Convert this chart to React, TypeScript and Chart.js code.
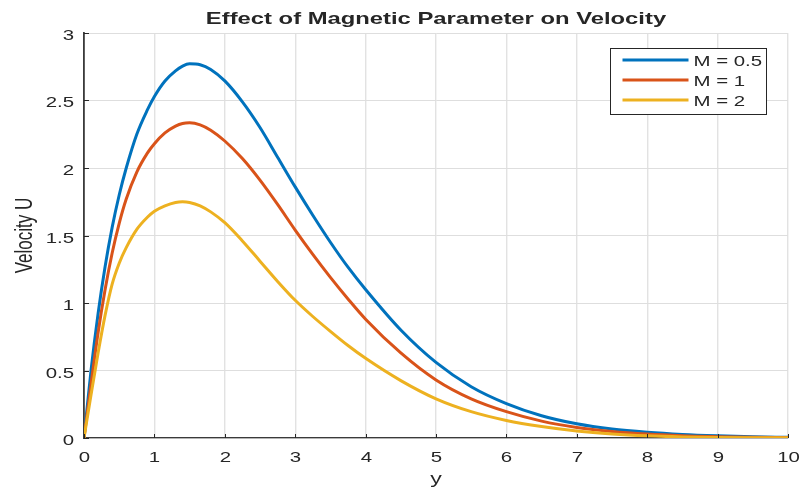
import { useEffect, useRef } from 'react';
import { Chart, registerables } from 'chart.js';

Chart.register(...registerables);

// Distance across the channel (y) and the velocity profiles for each magnetic parameter M
const yPositions = [
  0, 0.1, 0.2, 0.3, 0.4, 0.5, 0.6, 0.75, 0.9, 1.0, 1.15, 1.3, 1.4, 1.5, 1.65, 1.8, 2.0, 2.25, 2.5,
  2.75, 3, 3.25, 3.5, 3.75, 4, 4.5, 5, 5.5, 6, 6.5, 7, 7.5, 8, 8.5, 9, 9.5, 10,
];

const velocityM05 = [
  0, 0.5, 0.92, 1.27, 1.56, 1.8, 2.0, 2.25, 2.43, 2.53, 2.645, 2.72, 2.755, 2.772, 2.765, 2.73, 2.645,
  2.49, 2.3, 2.08, 1.86, 1.65, 1.45, 1.265, 1.1, 0.8, 0.56, 0.38, 0.255, 0.165, 0.105, 0.066, 0.042,
  0.026, 0.016, 0.009, 0.005,
];

const velocityM1 = [
  0, 0.4, 0.78, 1.1, 1.37, 1.59, 1.77, 1.97, 2.11, 2.18, 2.26, 2.31, 2.33, 2.335, 2.32, 2.28, 2.2,
  2.07, 1.91, 1.73, 1.54, 1.36, 1.19, 1.03, 0.88, 0.63, 0.43, 0.29, 0.195, 0.125, 0.078, 0.048, 0.029,
  0.017, 0.01, 0.005, 0.003,
];

const velocityM2 = [
  0, 0.32, 0.63, 0.91, 1.14, 1.295, 1.41, 1.545, 1.635, 1.68, 1.72, 1.745, 1.75, 1.745, 1.72, 1.675,
  1.595, 1.46, 1.31, 1.16, 1.02, 0.9, 0.79, 0.685, 0.59, 0.425, 0.29, 0.195, 0.13, 0.085, 0.052, 0.03,
  0.016, 0.008, 0.004, 0.002, 0.001,
];

const seriesLabels = ['M = 0.5', 'M = 1', 'M = 2'];
const seriesValues = [velocityM05, velocityM1, velocityM2];
const seriesColors = ['#0072BD', '#D95319', '#EDB120'];

const chartTitle = 'Effect of Magnetic Parameter on Velocity';
const xAxisTitle = 'y';
const yAxisTitle = 'Velocity U';

const X_MIN = 0;
const X_MAX = 10;
const X_STEP = 1;
const Y_MIN = 0;
const Y_MAX = 3;
const Y_STEP = 0.5;

const FONT = '"Liberation Sans", Arial, Helvetica, sans-serif';
const INK = '#262626';
const STRETCH = 1.36;

function drawWideText(
  ctx: CanvasRenderingContext2D,
  text: string,
  x: number,
  y: number,
  align: 'left' | 'center' | 'right',
  font: string,
  sx: number,
  color = INK
) {
  ctx.save();
  ctx.font = font;
  ctx.fillStyle = color;
  ctx.textAlign = 'left';
  ctx.textBaseline = 'alphabetic';
  const w = ctx.measureText(text).width * sx;
  const left = align === 'center' ? x - w / 2 : align === 'right' ? x - w : x;
  ctx.translate(left, y);
  ctx.scale(sx, 1);
  ctx.fillText(text, 0, 0);
  ctx.restore();
}

// Axes decorations drawn on top: inward ticks, tick labels, titles and a boxed legend
const axesDecor = {
  id: 'axesDecor',
  afterDraw(chart: any) {
    const ctx: CanvasRenderingContext2D = chart.ctx;
    const area = chart.chartArea;
    const xs = chart.scales.x;
    const ys = chart.scales.y;

    ctx.save();
    ctx.strokeStyle = INK;
    ctx.lineWidth = 1;
    xs.ticks.forEach((t: any) => {
      const px = Math.round(xs.getPixelForValue(t.value)) + 0.5;
      ctx.beginPath();
      ctx.moveTo(px, area.bottom);
      ctx.lineTo(px, area.bottom - 4);
      ctx.stroke();
      drawWideText(ctx, String(t.value), px, area.bottom + 24, 'center', `15px ${FONT}`, STRETCH);
    });
    ys.ticks.forEach((t: any) => {
      const py = Math.round(ys.getPixelForValue(t.value)) + 0.5;
      ctx.beginPath();
      ctx.moveTo(area.left, py);
      ctx.lineTo(area.left + 5, py);
      ctx.stroke();
      drawWideText(ctx, String(t.value), area.left - 10, py + 6.5, 'right', `15px ${FONT}`, STRETCH);
    });

    // chart title
    const cx = (area.left + area.right) / 2;
    drawWideText(ctx, chartTitle, cx, 24, 'center', `bold 17px ${FONT}`, 1.4);

    // x axis title
    drawWideText(ctx, xAxisTitle, cx, 484, 'center', `17px ${FONT}`, STRETCH);

    // y axis title, rotated
    ctx.save();
    ctx.font = `17px ${FONT}`;
    ctx.fillStyle = INK;
    ctx.textAlign = 'center';
    ctx.textBaseline = 'alphabetic';
    ctx.translate(32, (area.top + area.bottom) / 2);
    ctx.scale(STRETCH, 1);
    ctx.rotate(-Math.PI / 2);
    ctx.fillText(yAxisTitle, 0, 0);
    ctx.restore();

    // legend
    const boxL = 610.5;
    const boxT = 48.5;
    const boxW = 156;
    const boxH = 66;
    ctx.fillStyle = '#ffffff';
    ctx.fillRect(boxL, boxT, boxW, boxH);
    ctx.strokeStyle = INK;
    ctx.lineWidth = 1;
    ctx.strokeRect(boxL, boxT, boxW, boxH);
    chart.data.datasets.forEach((ds: any, i: number) => {
      const ly = boxT + 11.5 + i * 20;
      ctx.strokeStyle = ds.borderColor;
      ctx.lineWidth = 3;
      ctx.beginPath();
      ctx.moveTo(boxL + 12, ly);
      ctx.lineTo(boxL + 78, ly);
      ctx.stroke();
      drawWideText(ctx, ds.label, boxL + 83, ly + 6, 'left', `15px ${FONT}`, STRETCH);
    });
    ctx.restore();
  },
};

export default function App() {
  const canvasRef = useRef<HTMLCanvasElement | null>(null);

  useEffect(() => {
    if (!canvasRef.current) return;
    const datasets = seriesLabels.map((label, i) => ({
      label,
      data: yPositions.map((x, j) => ({ x, y: seriesValues[i][j] })),
      borderColor: seriesColors[i],
      backgroundColor: seriesColors[i],
      borderWidth: 3,
      pointRadius: 0,
      fill: false,
      cubicInterpolationMode: 'monotone' as const,
      order: seriesLabels.length - i,
    }));

    const chart = new Chart(canvasRef.current, {
      type: 'line',
      data: { datasets },
      options: {
        animation: false,
        responsive: true,
        maintainAspectRatio: false,
        layout: { padding: { top: 33, right: 12, left: 0, bottom: 0 } },
        plugins: {
          legend: { display: false },
          title: { display: false },
          tooltip: { enabled: false },
        },
        scales: {
          x: {
            type: 'linear',
            min: X_MIN,
            max: X_MAX,
            ticks: { stepSize: X_STEP, display: false },
            grid: { color: '#e2e2e2', lineWidth: 1.4, drawTicks: false },
            border: { display: true, color: '#3a3a3a', width: 1.2 },
            afterFit: (scale: any) => {
              scale.height = 52;
            },
          },
          y: {
            type: 'linear',
            min: Y_MIN,
            max: Y_MAX,
            ticks: { stepSize: Y_STEP, display: false },
            grid: { color: '#dedede', lineWidth: 1, drawTicks: false },
            border: { display: true, color: '#3a3a3a', width: 1.8 },
            afterFit: (scale: any) => {
              scale.width = 84;
            },
          },
        },
      },
      plugins: [axesDecor],
    });

    return () => chart.destroy();
  }, []);

  return (
    <div
      style={{
        position: 'absolute',
        left: 0,
        top: 0,
        width: 800,
        height: 490,
        background: '#ffffff',
      }}
    >
      <canvas ref={canvasRef} />
    </div>
  );
}
